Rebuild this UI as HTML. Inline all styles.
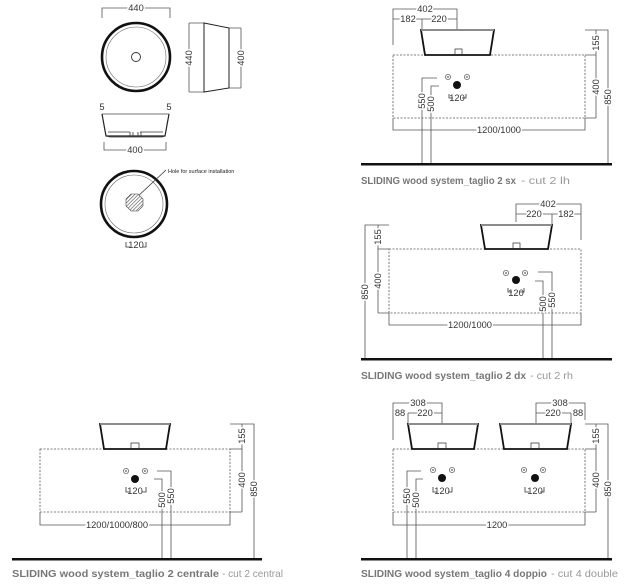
<!DOCTYPE html>
<html><head><meta charset="utf-8"><style>
html,body{margin:0;padding:0;background:#fff;}
svg{display:block;}
text{font-family:"Liberation Sans",sans-serif;}
.d{font-size:9.3px;fill:#333;stroke:#fff;stroke-width:3;paint-order:stroke;}
.cb{font-size:10.5px;font-weight:bold;fill:#777;}
.cn{font-size:10.5px;fill:#999;}
</style></head><body>
<svg width="631" height="585" viewBox="0 0 631 585" xmlns="http://www.w3.org/2000/svg">
<defs>
<pattern id="h" width="2.5" height="2.5" patternUnits="userSpaceOnUse" patternTransform="rotate(45)">
<rect width="2.5" height="2.5" fill="#fff"/><line x1="0" y1="0" x2="0" y2="2.5" stroke="#444" stroke-width="1.2"/>
</pattern>
<g id="hole"><circle r="2.6" fill="#fff" stroke="#777" stroke-width="0.9"/><circle r="0.9" fill="#555"/></g>
</defs>
<g fill="none" stroke="#555" stroke-width="0.8">
<circle cx="136" cy="57" r="34" stroke="#111" stroke-width="2.6"/>
<circle cx="136" cy="57" r="30" stroke="#666" stroke-width="0.6"/>
<circle cx="136" cy="57" r="4.5" stroke="#333" stroke-width="0.9"/>
<path d="M102 18V8H170V18"/>
<path d="M189 23H204M189 92H204M189 23V92"/>
<path d="M229 28H241M229 88H241M241 28V88"/>
<path d="M204 23L229 28V88L204 92Z" stroke="#222" stroke-width="1"/>
<path d="M102 114H169" stroke="#444"/>
<path d="M102 114L106 136H165L169 114" stroke="#222" stroke-width="1.2"/>
<path d="M108 132H130M140 132H163M130 132V137M133 132V137M138 132V137M141 132V137" stroke="#333" stroke-width="0.8"/>
<path d="M106 136L110 137H162L165 136" stroke="#333"/>
<path d="M104 142V150H166V142"/>
<circle cx="134" cy="204" r="33" stroke="#111" stroke-width="2.6"/>
<circle cx="134" cy="204" r="29" stroke="#666" stroke-width="0.6"/>
<path d="M136 198L166 170" stroke="#333"/>
<path d="M126 242V247H130M146 242V247H142" stroke="#333"/>
</g>
<polygon points="131,194 138,194 143,199 143,206 138,211 131,211 126,206 126,199" fill="url(#h)" stroke="#444" stroke-width="0.6"/>
<text class="d" x="136" y="11" text-anchor="middle">440</text>
<text class="d" x="192" y="58" text-anchor="middle" transform="rotate(-90 192 58)">440</text>
<text class="d" x="244" y="58" text-anchor="middle" transform="rotate(-90 244 58)">400</text>
<text class="d" x="102" y="110" text-anchor="middle" style="stroke:none">5</text>
<text class="d" x="169" y="110" text-anchor="middle" style="stroke:none">5</text>
<text class="d" x="135" y="153" text-anchor="middle">400</text>
<text x="168" y="173" style="font-size:5.5px;fill:#222">Hole for surface installation</text>
<text class="d" x="136" y="248" text-anchor="middle" style="stroke:none">120</text>

<!-- panel 1 -->
<g fill="none" stroke="#555" stroke-width="0.8">
<rect x="393" y="55" width="192" height="63" stroke-dasharray="2,1.5"/>
<path d="M393 45V9H457V30M422 19V30M393 19H457"/>
<path d="M585 30H596M585 55H596M585 118H596M596 30V118M596 30H608V164"/>
<path d="M393 118V130H585V118"/>
<path d="M437 78H422V164M439 86H431V164"/>
<path d="M449 94V98H453M466 94V98H462" stroke="#333"/>
</g>
<path d="M421 30L425 55H490L494 30Z" fill="#fff" stroke="#111" stroke-width="1.8"/>
<path d="M421 30H494" stroke="#fff" stroke-width="1.4"/><path d="M421 30H494" stroke="#444" stroke-width="0.7"/>
<path d="M455 54V49H462V54" fill="none" stroke="#333" stroke-width="0.7"/>
<use href="#hole" x="448" y="77"/><use href="#hole" x="467" y="77"/>
<circle cx="457" cy="85" r="4" fill="#111"/>
<rect x="361" y="163" width="251" height="2.5" fill="#111"/>
<text class="d" x="425" y="12" text-anchor="middle">402</text>
<text class="d" x="408" y="22" text-anchor="middle">182</text>
<text class="d" x="439" y="22" text-anchor="middle">220</text>
<text class="d" x="457" y="101" text-anchor="middle" style="stroke:none">120</text>
<text class="d" x="499" y="133" text-anchor="middle">1200/1000</text>
<text class="d" x="599" y="43" text-anchor="middle" transform="rotate(-90 599 43)">155</text>
<text class="d" x="599" y="87" text-anchor="middle" transform="rotate(-90 599 87)">400</text>
<text class="d" x="611" y="97" text-anchor="middle" transform="rotate(-90 611 97)">850</text>
<text class="d" x="425" y="101" text-anchor="middle" transform="rotate(-90 425 101)">550</text>
<text class="d" x="434" y="104" text-anchor="middle" transform="rotate(-90 434 104)">500</text>
<text class="cb" x="361" y="184" textLength="155" lengthAdjust="spacingAndGlyphs">SLIDING wood system_taglio 2 sx</text>
<text class="cn" x="521" y="184" textLength="49" lengthAdjust="spacingAndGlyphs">- cut 2 lh</text>

<!-- panel 2 -->
<g fill="none" stroke="#555" stroke-width="0.8">
<rect x="389" y="249" width="192" height="64" stroke-dasharray="2,1.5"/>
<path d="M516 222V204H581V240M552 214V225M516 214H581"/>
<path d="M389 225H365V359M389 249H378M389 313H378M378 225V313"/>
<path d="M389 313V325H581V313"/>
<path d="M535 281H543V359M538 272H552V359"/>
<path d="M508 288V292H512M524 288V292H520" stroke="#333"/>
</g>
<path d="M481 225L485 249H548L552 225Z" fill="#fff" stroke="#111" stroke-width="1.8"/>
<path d="M481 225H552" stroke="#fff" stroke-width="1.4"/><path d="M481 225H552" stroke="#444" stroke-width="0.7"/>
<path d="M513 248V243H520V248" fill="none" stroke="#333" stroke-width="0.7"/>
<use href="#hole" x="506" y="273"/><use href="#hole" x="525" y="273"/>
<circle cx="516" cy="280" r="4" fill="#111"/>
<rect x="361" y="358" width="251" height="2.5" fill="#111"/>
<text class="d" x="548" y="207" text-anchor="middle">402</text>
<text class="d" x="534" y="217" text-anchor="middle">220</text>
<text class="d" x="566" y="217" text-anchor="middle">182</text>
<text class="d" x="516" y="296" text-anchor="middle" style="stroke:none">120</text>
<text class="d" x="470" y="328" text-anchor="middle">1200/1000</text>
<text class="d" x="381" y="237" text-anchor="middle" transform="rotate(-90 381 237)">155</text>
<text class="d" x="381" y="281" text-anchor="middle" transform="rotate(-90 381 281)">400</text>
<text class="d" x="368" y="292" text-anchor="middle" transform="rotate(-90 368 292)">850</text>
<text class="d" x="546" y="304" text-anchor="middle" transform="rotate(-90 546 304)">500</text>
<text class="d" x="555" y="300" text-anchor="middle" transform="rotate(-90 555 300)">550</text>
<text class="cb" x="361" y="379" textLength="165" lengthAdjust="spacingAndGlyphs">SLIDING wood system_taglio 2 dx</text>
<text class="cn" x="530" y="379" textLength="43" lengthAdjust="spacingAndGlyphs">- cut 2 rh</text>

<!-- panel 3 -->
<g fill="none" stroke="#555" stroke-width="0.8">
<rect x="40" y="449" width="190" height="63" stroke-dasharray="2,1.5"/>
<path d="M230 424H254V559M230 449H242M230 512H242M242 424V512"/>
<path d="M40 512V525H230V512"/>
<path d="M154 479H162V559M157 471H171V559"/>
<path d="M126 487V492H130M146 487V492H142" stroke="#333"/>
</g>
<path d="M100 424L104 449H166L170 424Z" fill="#fff" stroke="#111" stroke-width="1.8"/>
<path d="M100 424H170" stroke="#fff" stroke-width="1.4"/><path d="M100 424H170" stroke="#444" stroke-width="0.7"/>
<path d="M131 448V443H139V448" fill="none" stroke="#333" stroke-width="0.7"/>
<use href="#hole" x="126" y="471"/><use href="#hole" x="145" y="471"/>
<circle cx="135" cy="479" r="4" fill="#111"/>
<rect x="12" y="558" width="250" height="2.5" fill="#111"/>
<text class="d" x="135" y="494" text-anchor="middle" style="stroke:none">120</text>
<text class="d" x="117" y="528" text-anchor="middle">1200/1000/800</text>
<text class="d" x="245" y="436" text-anchor="middle" transform="rotate(-90 245 436)">155</text>
<text class="d" x="245" y="480" text-anchor="middle" transform="rotate(-90 245 480)">400</text>
<text class="d" x="257" y="489" text-anchor="middle" transform="rotate(-90 257 489)">850</text>
<text class="d" x="165" y="500" text-anchor="middle" transform="rotate(-90 165 500)">500</text>
<text class="d" x="174" y="496" text-anchor="middle" transform="rotate(-90 174 496)">550</text>
<text class="cb" x="12" y="577" textLength="207" lengthAdjust="spacingAndGlyphs">SLIDING wood system_taglio 2 centrale</text>
<text class="cn" x="222" y="577" textLength="61" lengthAdjust="spacingAndGlyphs">- cut 2 central</text>

<!-- panel 4 -->
<g fill="none" stroke="#555" stroke-width="0.8">
<rect x="393" y="449" width="192" height="63" stroke-dasharray="2,1.5"/>
<path d="M393 440V403H442V424M408 413V424M408 413H442"/>
<path d="M536 424V403H585V420M571 413V424M536 413H571"/>
<path d="M585 424H608V559M585 449H596M585 512H596M596 424V512"/>
<path d="M393 512V525H585V512"/>
<path d="M421 471H407V559M423 479H416V559"/>
<path d="M433 487V492H437M452 487V492H448M525 487V492H529M544 487V492H540" stroke="#333"/>
</g>
<path d="M408 424L412 449H474L478 424Z" fill="#fff" stroke="#111" stroke-width="1.8"/>
<path d="M500 424L504 449H567L571 424Z" fill="#fff" stroke="#111" stroke-width="1.8"/>
<path d="M408 424H478M500 424H571" stroke="#fff" stroke-width="1.4"/><path d="M408 424H478M500 424H571" stroke="#444" stroke-width="0.7"/>
<path d="M438 448V443H446V448M531 448V443H539V448" fill="none" stroke="#333" stroke-width="0.7"/>
<use href="#hole" x="433" y="470"/><use href="#hole" x="452" y="470"/>
<use href="#hole" x="524" y="470"/><use href="#hole" x="543" y="470"/>
<circle cx="442" cy="478" r="4" fill="#111"/><circle cx="535" cy="478" r="4" fill="#111"/>
<rect x="361" y="558" width="251" height="2.5" fill="#111"/>
<text class="d" x="418" y="406" text-anchor="middle">308</text>
<text class="d" x="400" y="416" text-anchor="middle">88</text>
<text class="d" x="425" y="416" text-anchor="middle">220</text>
<text class="d" x="560" y="406" text-anchor="middle">308</text>
<text class="d" x="553" y="416" text-anchor="middle">220</text>
<text class="d" x="578" y="416" text-anchor="middle">88</text>
<text class="d" x="442" y="494" text-anchor="middle" style="stroke:none">120</text>
<text class="d" x="535" y="494" text-anchor="middle" style="stroke:none">120</text>
<text class="d" x="497" y="528" text-anchor="middle">1200</text>
<text class="d" x="599" y="436" text-anchor="middle" transform="rotate(-90 599 436)">155</text>
<text class="d" x="599" y="480" text-anchor="middle" transform="rotate(-90 599 480)">400</text>
<text class="d" x="611" y="489" text-anchor="middle" transform="rotate(-90 611 489)">850</text>
<text class="d" x="410" y="496" text-anchor="middle" transform="rotate(-90 410 496)">550</text>
<text class="d" x="419" y="500" text-anchor="middle" transform="rotate(-90 419 500)">500</text>
<text class="cb" x="361" y="577" textLength="186" lengthAdjust="spacingAndGlyphs">SLIDING wood system_taglio 4 doppio</text>
<text class="cn" x="551" y="577" textLength="67" lengthAdjust="spacingAndGlyphs">- cut 4 double</text>
</svg>
</body></html>
